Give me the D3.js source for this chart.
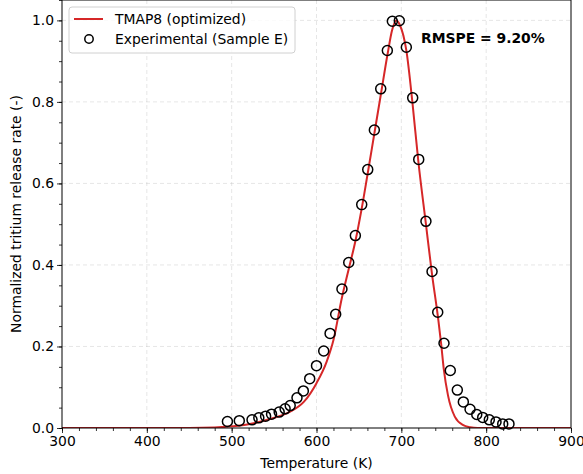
<!DOCTYPE html>
<html>
<head>
<meta charset="utf-8">
<script src="https://cdn.jsdelivr.net/npm/d3@7"></script>
<style>
  body { margin: 0; background: #fff; }
  svg { font-family: 'DejaVu Sans', sans-serif; }
</style>
</head>
<body>
<script>
// experimental points (Sample E)
const expTemp = [495, 509, 524, 532, 540, 547, 556, 563, 569, 577, 584.5, 592, 600, 608.5,
  616, 622.6, 630, 638, 645.8, 653.3, 660.4, 668.2, 675.7, 683.5, 689.4, 697.6,
  705.9, 713.4, 720.5, 729, 736.2, 742.9, 750.3, 757.7, 766, 773.1, 781, 788.9,
  795.9, 803.7, 811.6, 819.5, 826.9];
const expRate = [0.016, 0.018, 0.02, 0.025, 0.029, 0.034, 0.039, 0.047, 0.055, 0.074, 0.091, 0.121, 0.153, 0.189,
  0.232, 0.279, 0.341, 0.406, 0.472, 0.548, 0.634, 0.731, 0.832, 0.926, 0.998, 0.999,
  0.934, 0.81, 0.659, 0.507, 0.384, 0.284, 0.208, 0.141, 0.093, 0.064, 0.046, 0.033,
  0.026, 0.02, 0.015, 0.01, 0.01];

// TMAP8 model curve
const modelTemp = [300, 450, 480, 500, 520, 545, 569, 585, 600, 612, 620, 630, 638, 646, 653, 660,
  668, 676, 684, 689, 694, 698, 706, 713, 720, 729, 736, 743.6, 747, 750, 755, 763, 773, 781, 790, 900];
const modelRate = [0, 0, 0.001, 0.004, 0.009, 0.022, 0.04, 0.064, 0.11, 0.163, 0.216, 0.32, 0.39, 0.46, 0.535, 0.62,
  0.72, 0.82, 0.92, 0.975, 1.0, 0.99, 0.925, 0.8, 0.655, 0.5, 0.38, 0.265, 0.205, 0.145, 0.08, 0.028, 0.007, 0.002, 0, 0];

const xTicks = [300, 400, 500, 600, 700, 800, 900];
const yTicks = [0.0, 0.2, 0.4, 0.6, 0.8, 1.0];
const legendLabels = ['TMAP8 (optimized)', 'Experimental (Sample E)'];
const rmspeText = 'RMSPE = 9.20%';

const width = 583, height = 474;
const plotLeft = 62, plotRight = 571, plotTop = 0, plotBottom = 428;
const red = '#d62728';

const svg = d3.select('body').append('svg')
  .attr('width', width)
  .attr('height', height);

const x = d3.scaleLinear().domain([300, 900]).range([plotLeft, plotRight]);
const y = d3.scaleLinear().domain([0, 1.05]).range([plotBottom, plotTop]);

// grid
const grid = svg.append('g');
grid.selectAll('.gx')
  .data(xTicks.slice(1, -1))
  .enter().append('line')
  .attr('x1', (d) => x(d)).attr('x2', (d) => x(d))
  .attr('y1', plotTop).attr('y2', plotBottom);
grid.selectAll('.gy')
  .data(yTicks.slice(1))
  .enter().append('line')
  .attr('x1', plotLeft).attr('x2', plotRight)
  .attr('y1', (d) => y(d)).attr('y2', (d) => y(d));
grid.selectAll('line')
  .attr('stroke', '#b0b0b0')
  .attr('stroke-opacity', 0.4)
  .attr('stroke-width', 0.8)
  .attr('stroke-dasharray', '4,3');

// axes
const xAxis = d3.axisBottom(x).tickValues(xTicks).tickFormat(d3.format('d')).tickSize(5).tickPadding(3);
const xMinor = d3.axisBottom(x).tickValues(d3.range(300, 901, 20)).tickFormat('').tickSize(3);
const yAxis = d3.axisLeft(y).tickValues(yTicks).tickFormat(d3.format('.1f')).tickSize(5).tickPadding(3);
const yMinor = d3.axisLeft(y).tickValues(d3.range(0, 1.051, 0.05)).tickFormat('').tickSize(3);

const gx = svg.append('g').attr('transform', 'translate(0,' + plotBottom + ')');
gx.append('g').call(xMinor);
gx.append('g').call(xAxis);
const gy = svg.append('g').attr('transform', 'translate(' + plotLeft + ',0)');
gy.append('g').call(yMinor);
gy.append('g').call(yAxis);
svg.selectAll('.domain').remove();
svg.selectAll('.tick line').attr('stroke', '#000').attr('stroke-width', 0.8);
svg.selectAll('.tick text').attr('font-size', 13.9).attr('fill', '#000')
  .attr('font-family', "'DejaVu Sans', sans-serif");

// model curve
svg.append('clipPath').attr('id', 'clip').append('rect')
  .attr('x', plotLeft).attr('y', plotTop)
  .attr('width', plotRight - plotLeft).attr('height', plotBottom - plotTop);

const line = d3.line()
  .x((d, i) => x(modelTemp[i]))
  .y((d) => y(d))
  .curve(d3.curveMonotoneX);

svg.append('path')
  .datum(modelRate)
  .attr('clip-path', 'url(#clip)')
  .attr('d', line)
  .attr('fill', 'none')
  .attr('stroke', red)
  .attr('stroke-width', 2);

// experimental markers
svg.append('g').selectAll('circle')
  .data(expRate)
  .enter().append('circle')
  .attr('cx', (d, i) => x(expTemp[i]))
  .attr('cy', (d) => y(d))
  .attr('r', 5)
  .attr('fill', 'none')
  .attr('stroke', '#000')
  .attr('stroke-width', 1.5);

// frame
svg.append('rect')
  .attr('x', plotLeft).attr('y', plotTop)
  .attr('width', plotRight - plotLeft).attr('height', plotBottom - plotTop)
  .attr('fill', 'none')
  .attr('stroke', '#000')
  .attr('stroke-width', 1);

// axis labels
svg.append('text')
  .attr('x', (plotLeft + plotRight) / 2).attr('y', 468)
  .attr('text-anchor', 'middle')
  .attr('font-size', 13.9)
  .text('Temperature (K)');
svg.append('text')
  .attr('transform', 'translate(21,' + ((plotTop + plotBottom) / 2) + ') rotate(-90)')
  .attr('text-anchor', 'middle')
  .attr('font-size', 13.9)
  .text('Normalized tritium release rate (-)');

// legend
const lg = svg.append('g');
lg.append('rect')
  .attr('x', 69).attr('y', 7).attr('width', 226).attr('height', 46)
  .attr('rx', 3)
  .attr('fill', '#fff').attr('fill-opacity', 0.8)
  .attr('stroke', '#d0d0d0');
lg.append('line')
  .attr('x1', 74).attr('x2', 103).attr('y1', 19).attr('y2', 19)
  .attr('stroke', red).attr('stroke-width', 2);
lg.append('circle')
  .attr('cx', 89).attr('cy', 39).attr('r', 4.2)
  .attr('fill', 'none').attr('stroke', '#000').attr('stroke-width', 1.5);
lg.selectAll('text')
  .data(legendLabels)
  .enter().append('text')
  .attr('x', 115)
  .attr('y', (d, i) => 24 + i * 20)
  .attr('font-size', 13.9)
  .text((d) => d);

// annotation
svg.append('text')
  .attr('x', 421).attr('y', 43)
  .attr('font-size', 13.9)
  .attr('font-weight', 'bold')
  .text(rmspeText);
</script>
</body>
</html>
